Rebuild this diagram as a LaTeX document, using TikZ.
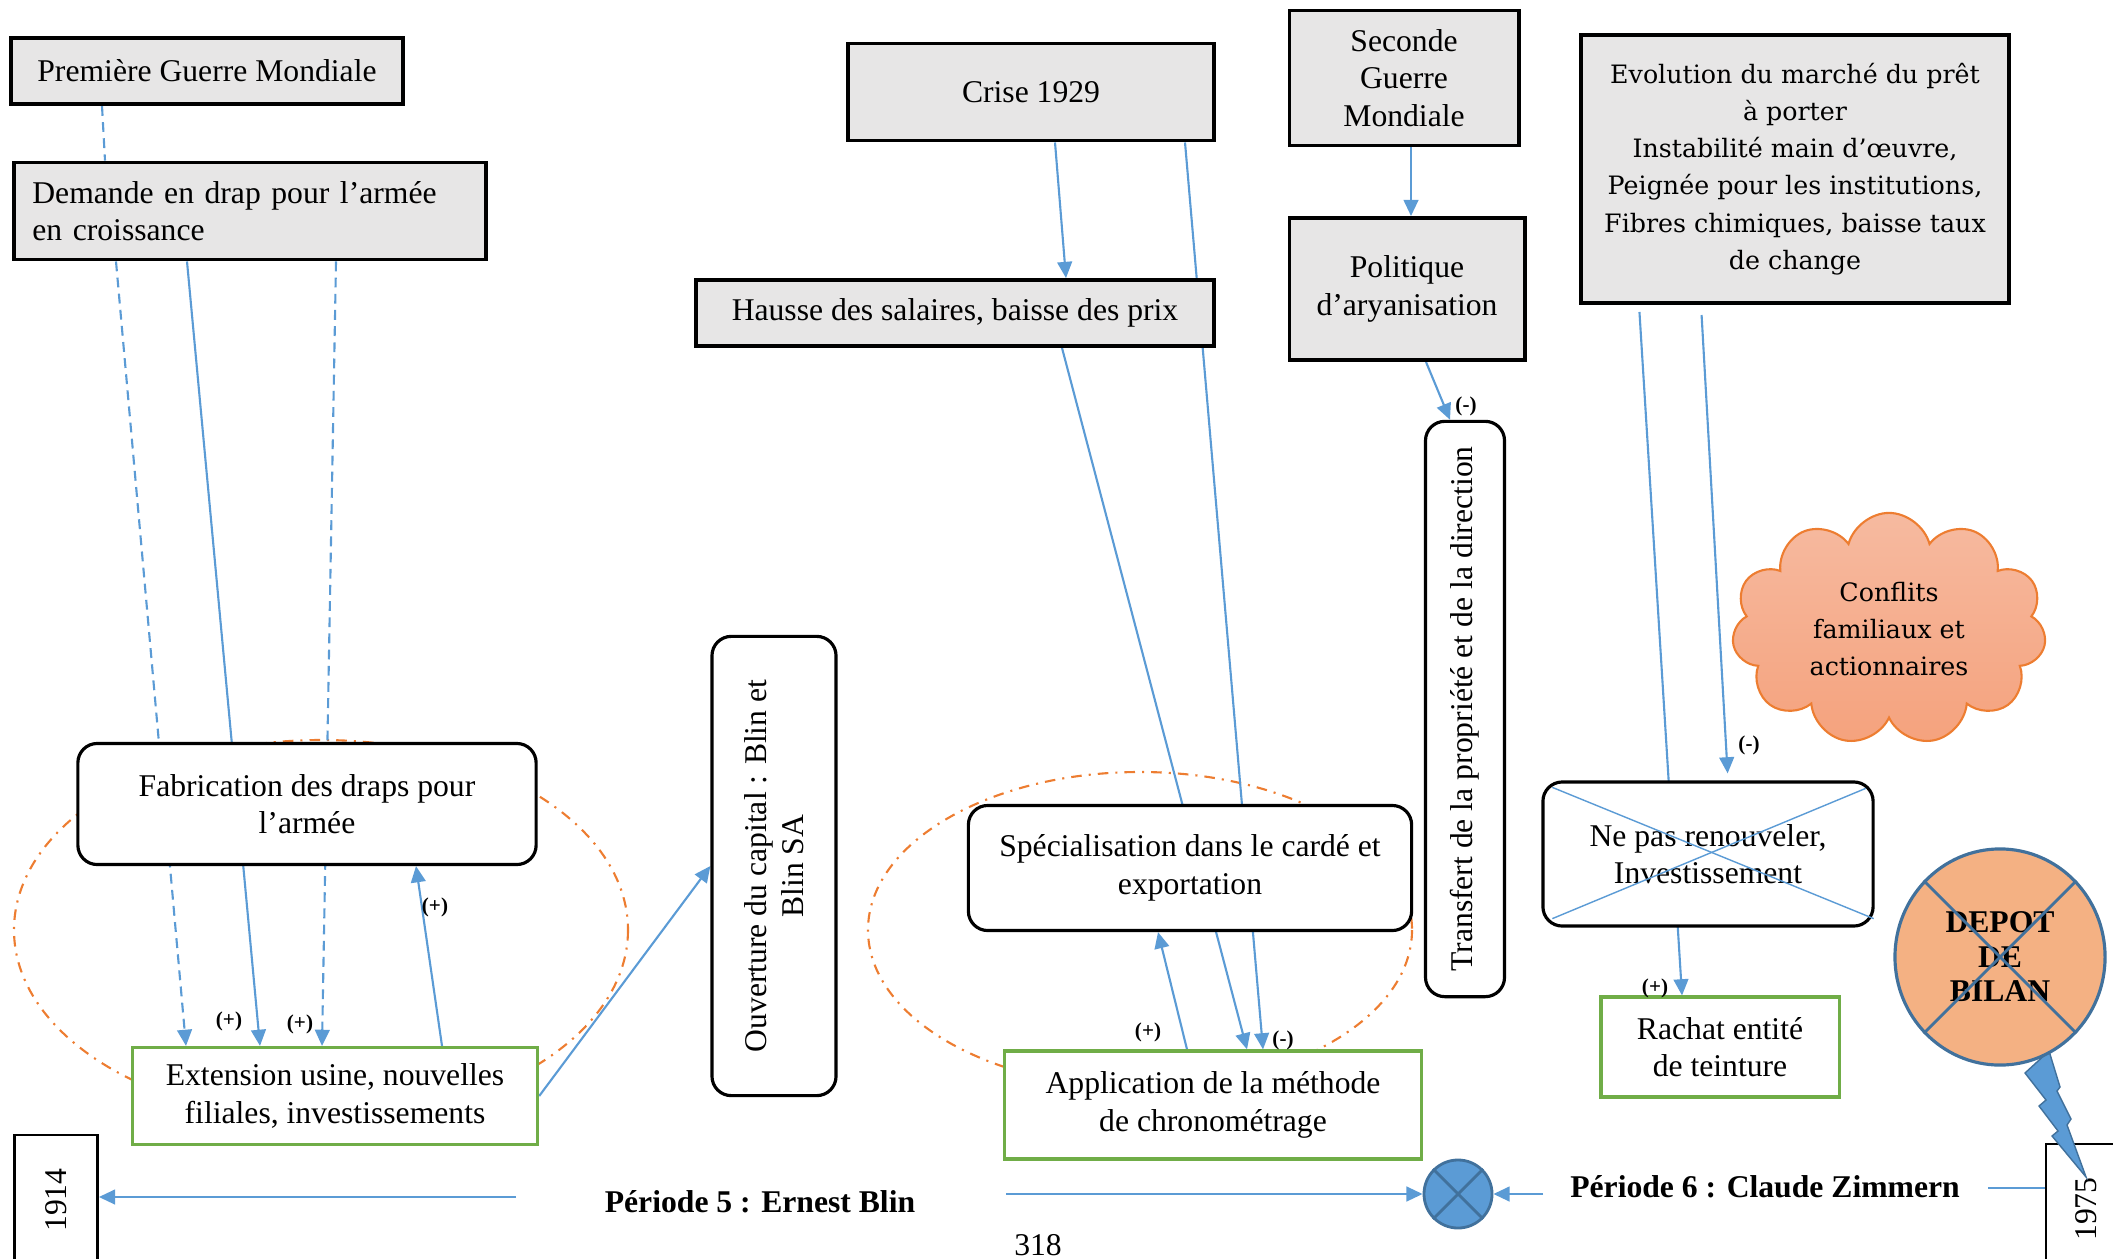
\documentclass[tikz,border=0pt]{standalone}
\usepackage{xcolor}
\usepackage{fontspec}
\setmainfont{Liberation Serif}
\newfontfamily\evofont{DejaVu Serif}
\usepackage{tikz}
\usetikzlibrary{arrows.meta,shapes.geometric,shapes.symbols}
\definecolor{linkblue}{RGB}{91,155,213}
\definecolor{edgeblue}{RGB}{65,113,156}
\definecolor{looporange}{RGB}{237,125,49}
\definecolor{resultgreen}{RGB}{112,173,71}
\definecolor{eventgray}{RGB}{231,230,230}
\definecolor{bilanorange}{RGB}{244,177,131}
\definecolor{cloudtop}{RGB}{246,186,160}
\definecolor{cloudbottom}{RGB}{245,162,125}
\pgfdeclarelayer{background}
\pgfsetlayers{background,main}
\tikzset{
  eventbox/.style={
    rectangle,
    draw=black,
    line width=1.1pt,
    fill=eventgray,
    align=center,
    inner sep=2pt,
    font=\fontsize{9}{10.7}\selectfont
  },
  actionbox/.style={
    rectangle,
    rounded corners=5.5pt,
    draw=black,
    line width=0.9pt,
    fill=white,
    align=center,
    inner sep=2pt,
    font=\fontsize{9}{10.7}\selectfont
  },
  resultbox/.style={
    rectangle,
    draw=resultgreen,
    line width=0.9pt,
    fill=white,
    align=center,
    inner sep=2pt,
    font=\fontsize{9}{10.7}\selectfont
  },
  yearbox/.style={
    rectangle,
    draw=black,
    line width=0.8pt,
    fill=white,
    rotate=90,
    inner sep=2pt,
    font=\fontsize{9}{10.7}\selectfont
  },
  linkarrow/.style={
    -{Triangle[length=4.6pt,width=4.2pt]},
    line width=0.6pt,
    draw=linkblue
  },
  linkdash/.style={
    linkarrow,
    dash pattern=on 2.8pt off 1.8pt
  },
  loopring/.style={
    draw=looporange,
    line width=0.6pt,
    dash pattern=on 3pt off 2pt on 0.6pt off 2pt
  },
  signlabel/.style={
    font=\fontsize{6}{7}\selectfont\bfseries,
    inner sep=0pt
  },
  periodlabel/.style={
    font=\fontsize{9}{10.7}\selectfont\bfseries,
    inner sep=0pt
  },
  crossline/.style={
    draw=edgeblue,
    line width=0.8pt
  }
}

\begin{document}
\begin{tikzpicture}[x=0.01cm,y=-0.01cm]
\useasboundingbox (0,0) rectangle (2113,1258);
\node[eventbox, minimum width=3.92cm, minimum height=0.66cm] (pgm) at (207,71) {Première Guerre Mondiale};
\node[eventbox, text width=4.35cm, inner xsep=0.18cm, minimum height=0.97cm, align=left] (demande) at (250,211) {Demande en drap pour l’armée\\en croissance};
\node[actionbox, minimum width=4.58cm, minimum height=1.21cm] (fabric) at (307,804) {Fabrication des draps pour\\l’armée};
\node[resultbox, minimum width=4.05cm, minimum height=0.97cm] (extension) at (335,1096) {Extension usine, nouvelles\\filiales, investissements};
\node[actionbox, rotate=90, minimum width=4.59cm, minimum height=1.24cm] (ouverture) at (774,866) {Ouverture du capital : Blin et\\Blin SA};
\node[eventbox, minimum width=3.66cm, minimum height=0.97cm] (crise) at (1031,92) {Crise 1929};
\node[eventbox, minimum width=5.17cm, minimum height=0.66cm] (hausse) at (955,313) {Hausse des salaires, baisse des prix};
\node[eventbox, minimum width=2.29cm, minimum height=1.35cm] (seconde) at (1404,78) {Seconde\\Guerre\\Mondiale};
\node[eventbox, minimum width=2.35cm, minimum height=1.42cm] (politique) at (1407,289) {Politique\\d’aryanisation};
\node[actionbox, rotate=90, minimum width=5.75cm, minimum height=0.79cm] (transfert) at (1465,709) {Transfert de la propriété et de la direction};
\node[actionbox, minimum width=4.43cm, minimum height=1.25cm] (special) at (1190,868) {Spécialisation dans le cardé et\\exportation};
\node[resultbox, minimum width=4.17cm, minimum height=1.08cm] (chrono) at (1213,1105) {Application de la méthode\\de chronométrage};
\node[eventbox, minimum width=4.28cm, minimum height=2.68cm, font=\evofont\fontsize{7.2}{10.6}\selectfont] (evolution) at (1795,169) {Evolution du marché du prêt\\à porter\\Instabilité main d’œuvre,\\Peignée pour les institutions,\\Fibres chimiques, baisse taux\\de change};
\node[cloud, cloud puffs=11, aspect=1.4, draw=looporange, line width=0.6pt, top color=cloudtop, bottom color=cloudbottom, minimum width=3.14cm, minimum height=2.29cm, align=center, font=\evofont\fontsize{7.2}{10.6}\selectfont] (conflits) at (1889,629) {Conflits\\familiaux et\\actionnaires};
\node[actionbox, minimum width=3.3cm, minimum height=1.44cm] (renouv) at (1708,854) {Ne pas renouveler,\\Investissement};
\node[resultbox, minimum width=2.38cm, minimum height=1.0cm] (rachat) at (1720,1047) {Rachat entité\\de teinture};
\node[yearbox, minimum width=1.3cm, minimum height=0.83cm] (an1914) at (56,1200) {1914};
\node[yearbox, minimum width=1.3cm, minimum height=0.8cm] (an1975) at (2086,1209) {1975};
\fill[linkblue, draw=edgeblue, line width=0.4pt] (2025,1073) -- (2049,1051) -- (2060,1087) -- (2057,1091) -- (2071,1119) -- (2067,1125) -- (2086,1177) -- (2052,1136) -- (2058,1131) -- (2039,1106) -- (2046,1100) -- cycle;
\node[ellipse, draw=edgeblue, line width=0.9pt, fill=bilanorange, minimum width=2.1cm, minimum height=2.16cm, align=center, font=\fontsize{9}{9.8}\selectfont\bfseries] (bilan) at (2000,957) {DEPOT\\DE\\BILAN};
\node[circle, draw=edgeblue, line width=0.8pt, fill=linkblue, minimum size=0.68cm, inner sep=0pt] (jonction) at (1458,1194) {};
\node[periodlabel] (per5) at (760,1202) {Période 5 : Ernest Blin};
\node[periodlabel] (per6) at (1765,1187) {Période 6 : Claude Zimmern};
\node[font=\fontsize{9}{10.7}\selectfont, anchor=north, inner sep=0pt] (page) at (1038,1234) {318};
\coordinate (t5left) at (516,1197);
\coordinate (t5right) at (1006,1194);
\coordinate (t6left) at (1543,1194);
\coordinate (t6right) at (1988,1188);

\begin{pgfonlayer}{background}
\draw[loopring] (321,930) ellipse [x radius=307, y radius=190];
\draw[loopring] (1140,930) ellipse [x radius=272, y radius=158];
\draw[linkdash, -] (102,0 |- pgm.south) -- (105,0 |- demande.north);
\draw[linkdash] (116,0 |- demande.south) -- (186,0 |- extension.north);
\draw[linkarrow] (187,0 |- demande.south) -- (260,0 |- extension.north);
\draw[linkdash] (336,0 |- demande.south) -- (322,0 |- extension.north);
\draw[linkarrow] (442,0 |- extension.north) -- (416,0 |- fabric.south);
\draw[linkarrow] (extension.east) -- (ouverture.north);
\draw[linkarrow] (1055,0 |- crise.south) -- (1066,0 |- hausse.north);
\draw[linkarrow] (1185,0 |- crise.south) -- (1263,0 |- chrono.north);
\draw[linkarrow] (1062,0 |- hausse.south) -- (1247,0 |- chrono.north);
\draw[linkarrow] (1187,0 |- chrono.north) -- (1158,0 |- special.south);
\draw[linkarrow] (1411,0 |- seconde.south) -- (1411,0 |- politique.north);
\draw[linkarrow] (1426,0 |- politique.south) -- (1450,0 |- transfert.east);
\draw[linkarrow, shorten <=0.07cm] (1639,0 |- evolution.south) -- (1682,0 |- rachat.north);
\draw[linkarrow, shorten <=0.1cm, shorten >=0.07cm] (1701,0 |- evolution.south) -- (1728,0 |- renouv.north);
\draw[linkarrow] (t5left) -- (an1914.south |- t5left);
\draw[linkarrow] (t5right) -- (jonction.west);
\draw[linkarrow] (t6left) -- (jonction.east);
\draw[linkarrow, -] (t6right) -- (an1975.north |- t6right);
\end{pgfonlayer}

\draw[crossline] (bilan.45) -- (bilan.225);
\draw[crossline] (bilan.135) -- (bilan.315);
\draw[crossline] (jonction.45) -- (jonction.225);
\draw[crossline] (jonction.135) -- (jonction.315);
\draw[linkblue, line width=0.4pt] ([xshift=0.11cm,yshift=-0.07cm]renouv.north west) -- ([xshift=-0.01cm,yshift=0.09cm]renouv.south east);
\draw[linkblue, line width=0.4pt] ([xshift=-0.09cm,yshift=-0.08cm]renouv.north east) -- ([xshift=0.11cm,yshift=0.09cm]renouv.south west);

\node[signlabel] (s1) at (229,1021) {(+)};
\node[signlabel] (s2) at (300,1024) {(+)};
\node[signlabel] (s3) at (435,907) {(+)};
\node[signlabel] (s4) at (1148,1032) {(+)};
\node[signlabel] (s5) at (1283,1040) {(-)};
\node[signlabel] (s6) at (1466,406) {(-)};
\node[signlabel] (s7) at (1749,745) {(-)};
\node[signlabel] (s8) at (1655,988) {(+)};
\end{tikzpicture}
\end{document}
